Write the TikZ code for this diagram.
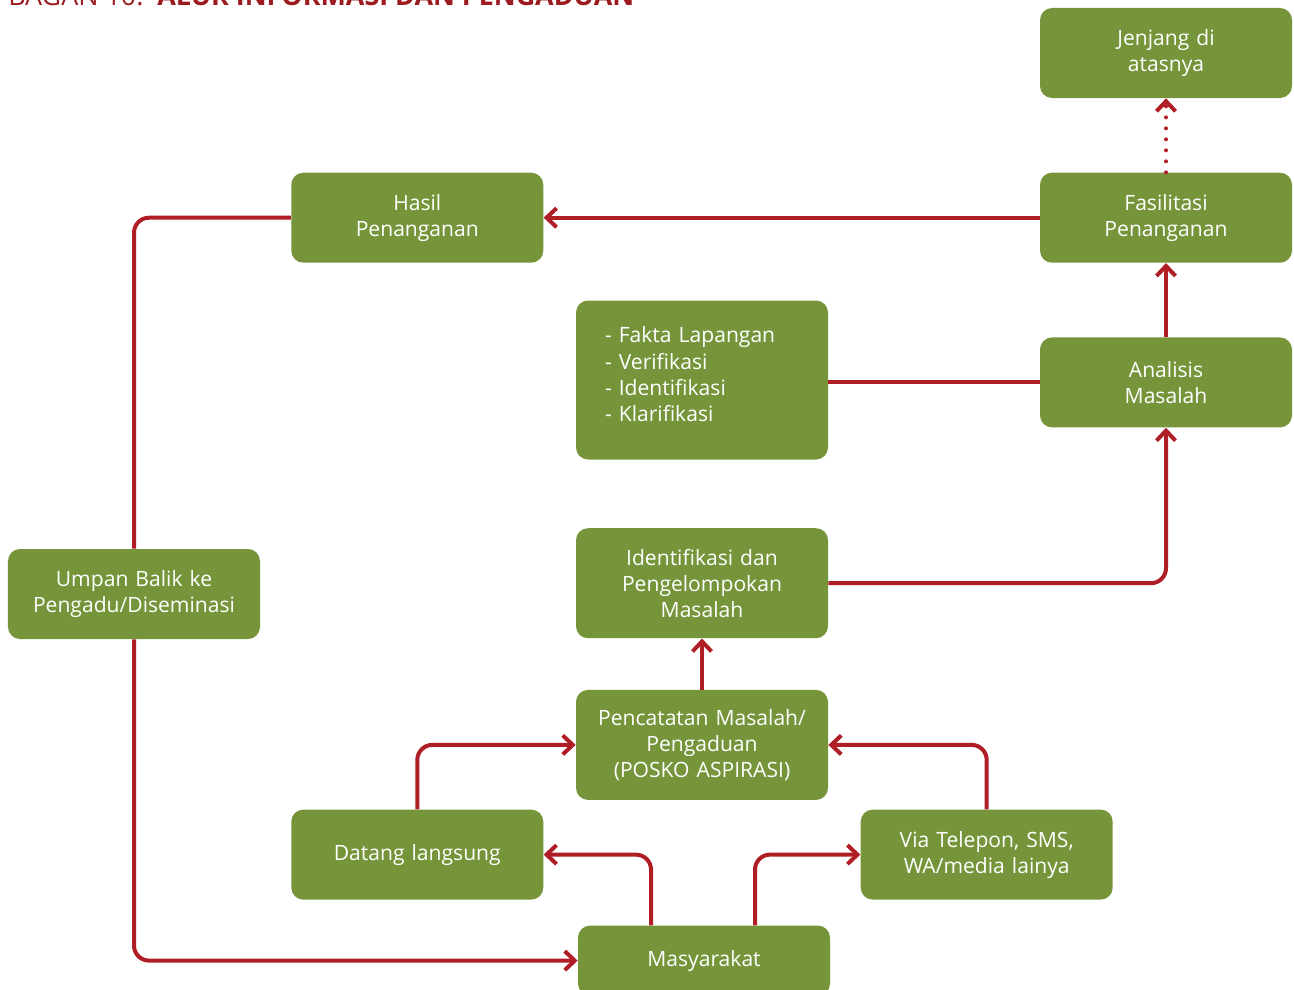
\documentclass[tikz,border=0pt]{standalone}
\usepackage{fontspec}
\setmainfont{Open Sans}
\usetikzlibrary{positioning,arrows.meta}
\definecolor{boxgreen}{RGB}{118,149,59}
\definecolor{linered}{RGB}{175,30,36}
\definecolor{titlered}{RGB}{155,27,32}

\begin{document}
\begin{tikzpicture}[
	main/.style={rectangle, rounded corners=0.24cm, fill=boxgreen, text=white, text centered, align=center, text width=4.6cm, inner xsep=0.22cm, minimum width=5.04cm, minimum height=1.8cm, font=\fontsize{12}{14.8}\selectfont},
	list/.style={main, align=left, text width=3.88cm, inner xsep=0.58cm},
	flow/.style={draw=linered, line width=0.08cm, rounded corners=0.3cm, -{Straight Barb[length=0.2cm, width=0.38cm]}},
	link/.style={draw=linered, line width=0.08cm, rounded corners=0.3cm}
	]
	\useasboundingbox (0,0) rectangle (25.88,-19.8);
	
	\node (title) [anchor=base west, text=titlered, font=\fontsize{15.3}{18}\selectfont, inner sep=0] at (0.16,-0.12) {BAGAN 10.\ \ \textbf{ALUR INFORMASI DAN PENGADUAN}};
	
	\node (jenjang) [main] at (23.32,-1.06) {Jenjang di\\atasnya};
	\node (fasil) [main, below=1.48cm of jenjang] {Fasilitasi\\Penanganan};
	\node (hasil) [main, left=9.92cm of fasil] {Hasil\\Penanganan};
	\node (analisis) [main, below=1.48cm of fasil] {Analisis\\Masalah};
	\node (fakta) [list, minimum height=3.18cm] at (14.04,-7.6) {- Fakta Lapangan\\- Verifikasi\\- Identifikasi\\- Klarifikasi\\[-0.28cm]\mbox{}};
	\node (identif) [main, minimum height=2.2cm, below=1.36cm of fakta] {Identifikasi dan\\Pengelompokan\\Masalah};
	\node (pencat) [main, minimum height=2.2cm, below=1.02cm of identif] {Pencatatan Masalah/\\Pengaduan\\(POSKO ASPIRASI)};
	\node (datang) [main, below left=0.18cm and 0.64cm of pencat] {Datang langsung};
	\node (via) [main, below right=0.18cm and 0.64cm of pencat] {Via Telepon, SMS,\\WA/media lainya};
	\node (masy) [main, minimum height=1.4cm, below=2.5cm of pencat, xshift=0.04cm] {Masyarakat};
	\node (umpan) [main] at (2.68,-11.88) {Umpan Balik ke\\Pengadu/Diseminasi};
	
	\draw [flow, line cap=round, dash pattern=on 0pt off 0.22cm] (fasil.north)--(jenjang.south);
	\draw [flow] (analisis.north)--(fasil.south);
	\draw [flow] (fasil.west)--(hasil.east);
	\draw [link] (fakta.east |- analisis.west)--(analisis.west);
	\draw [flow] (identif.east)-|(analisis.south);
	\draw [flow] (pencat.north)--(identif.south);
	\draw [flow] (datang.north)|-(pencat.west);
	\draw [flow] (via.north)|-(pencat.east);
	\draw [flow] ([xshift=-1.06cm]masy.north)|-(datang.east);
	\draw [flow] ([xshift=1.02cm]masy.north)|-(via.west);
	\draw [link] (hasil.west)-|(umpan.north);
	\draw [flow] (umpan.south)|-(masy.west);
	
\end{tikzpicture}
\end{document}
